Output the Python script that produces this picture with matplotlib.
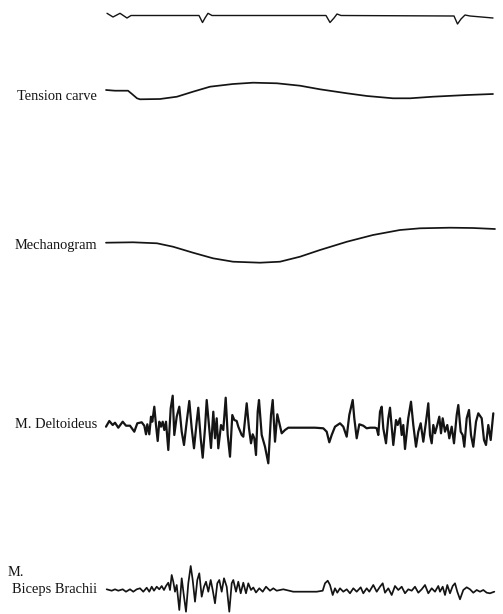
import matplotlib
matplotlib.use("Agg")
import matplotlib.pyplot as plt
import numpy as np

# Time base shared by all channels (horizontal units) and per-channel deflections
# (upward positive) from each channel's resting level.

# Time marker
marker_t = [107, 113, 120, 127, 131, 136, 199, 202.5, 205, 208, 212,
            326, 330, 334, 337, 341, 454, 457.5, 461, 465, 470, 493]
marker_v = [2.2, -1.5, 2.2, -2.5, 0, 0, 0, -7, -2.5, 2.2, 0,
            0, -7, -2.5, 1.5, 0, -0.5, -8.5, -3.5, 0.5, -0.5, -2.5]

# Tension curve
tension_t = [106, 115, 128, 132, 137, 140, 160, 177, 193, 210, 233, 253,
             277, 300, 320, 347, 367, 393, 410, 433, 467, 493]
tension_v = [1, 0.3, 0.3, -3, -7.3, -8.3, -8, -5.7, -0.7, 4.3, 7, 8.3,
             7.7, 5.3, 1.7, -2.3, -5, -7.3, -7.3, -5.7, -4, -3]

# Mechanogram
mech_t = [106, 133, 157, 173, 193, 213, 233, 260, 280, 300, 320, 347,
          373, 400, 420, 450, 473, 495]
mech_v = [0.3, 0.7, -0.3, -3.7, -9.7, -15.3, -18.7, -19.7, -18.7, -13.7, -7, 1.3,
          8, 13, 14.7, 15.3, 15, 14]

# M. Deltoideus EMG
delt_t = [106, 109.3, 112.7, 115, 118.3, 122.7, 126, 130, 134.3, 137.3, 141.7,
          144.3, 146, 147.3, 149.3, 151, 152.3, 154.3, 156, 157.7, 159.3, 161,
          162.7, 164.3, 166, 168.3, 170.7, 172.7, 174.3, 176.7, 179.3, 181.7,
          184, 186.7, 189.3, 191.7, 194, 196.7, 198.3, 200.7, 202.7, 205,
          206.7, 211, 213.3, 215, 216.7, 218.3, 221, 223.3, 225.7, 227.7, 230,
          232.3, 234.3, 236.7, 238.3, 241.7, 243.3, 246.7, 249, 251, 252.7,
          254.3, 256, 257.7, 259, 261.7, 265, 268.3, 271, 272.7, 275, 277.3,
          279, 281.7, 285, 288.3, 315, 323.3, 326.7, 329.3, 331.7, 335, 340,
          343.3, 346.7, 349.3, 352.7, 354.3, 356.7, 359.3, 363.3, 366.7, 370,
          375, 376.7, 378.3, 380, 381.7, 383.3, 386, 388.3, 390, 391.7, 393.3,
          396, 397.7, 400, 401.7, 403.3, 405, 408.3, 411, 413.3, 416, 418.3,
          420.7, 423.3, 426, 428.3, 430, 431.7, 433.3, 435, 437.3, 439.3, 441,
          442.7, 445, 447.3, 449.3, 451.7, 454, 456.7, 458.3, 460.7, 462.7,
          464.3, 466.7, 469, 471, 473.3, 476, 478.3, 481.7, 484, 486, 488.3,
          490.7, 493.3]
delt_v = [0.3, 6, 2, 4.3, -0.7, 5.3, 1.3, 1.3, -4.7, 3.7, 4.7,
          1.3, -7.3, 2.7, -7.3, 10.3, 5.3, 20.3, 2, -14, 5.3, 0.3,
          5.3, -3, 5.3, -23, 18.7, 31.3, -8, 10.3, 20.3, -4.7,
          -18, 5.3, 26, -1.3, -21.3, 5.3, 19.3, -11.3, -30.7, -1.3,
          27, -21, 15.3, -11.3, 8.7, -21.3, 2, -3, 29.3, -8, -29.7,
          12, 7, 6, 0.3, -8, -9.7, 23.7, -1.3, -16.3, -7.3,
          -11.3, -28, 15.3, 27, -8, -19.7, -36.3, 12, 27, -14.7, 12.7,
          5.3, -6.3, -3, -0.7, -0.7, -1.3, -4.7, -15.3, -8, 0.3, 3.7,
          0.3, -9.7, 12, 27, 8.7, -11.3, 2.7, 1.3, -1.3, -0.7,
          -0.7, -1.3, -8, 15.3, 20.3, -1.3, -16.3, 8.7, 19.3, 0.3, -18,
          7, 2, 8.7, -8, 2, -22, 9, 25.3, 2, -19.7, -4.7,
          3.7, -14.7, 5.3, 23.7, -8, -16.3, 2, -6.3, 2, 10.3, -6.3,
          8.7, -4.7, 2, -11.3, 0.3, -16.3, 12, 22, -4.7, -8,
          -19.7, 8.7, 17, -8, -19.7, 5.3, 13.7, 8.7, -13, -18, 2,
          -13, 13.7]

# M. Biceps Brachii EMG
bic_t = [106.7, 111.7, 115, 118.3, 122.7, 126, 130, 133.3, 136.7, 140, 143.3,
         146.7, 149.3, 151.7, 154, 156.7, 159.3, 161.7, 164, 166, 168.3, 170,
         171.7, 173.3, 175, 176.7, 179.3, 181.7, 184, 186, 188.3, 190.7, 192.7,
         195, 197.3, 199.3, 201.7, 204, 206, 208.3, 210.7, 212.7, 215, 217.3,
         219.3, 221.7, 224, 226.7, 229.3, 231.7, 233.3, 236, 238.3, 240.7,
         243.3, 246, 248.3, 251, 253.3, 256, 259.3, 262.7, 266, 270, 273.3,
         276.7, 283.3, 293.3, 303.3, 316.7, 322.7, 325, 327.7, 330, 332.7, 335,
         337.3, 340, 343.3, 346.7, 350, 353.3, 356.7, 360.7, 363.3, 366.7,
         369.3, 373.3, 376.7, 380, 382.7, 385, 388.3, 391.7, 395, 398.3, 401.7,
         405, 408.3, 411.7, 415, 418.3, 421.7, 425, 428.3, 431.7, 435, 438.3,
         440, 442.7, 445, 447.3, 450, 452.7, 455, 457.3, 460, 463.3, 466.7,
         470, 473.3, 476.7, 480, 483.3, 486.7, 490, 494.3]
bic_v = [0.7, -0.7, 0.7, -0.7, 0.7, -1.7, 0.7, -1.7, 0.7, 1.7, -1.7,
         2.3, -1.7, 3.3, -0.7, 3.3, 0.7, 4, 0, 4, 7.3, 0,
         15, 8.3, -1.7, 5, -20, 11.7, -6.7, -21.7, 6.7, 24, 10,
         -11.7, 10, 16.7, -6.7, 3.3, 8.3, -1.7, 10, 0, -13.3, 6.7,
         10, -1.7, 11.7, 3.3, -21.7, 6.7, 10, -1.7, 8.3, -3.3,
         7.3, -3.3, 6.7, 0, 2.5, -2.5, 1.7, -1.7, 3.3, -0.7, 1.7,
         -0.7, 0.7, -1.7, -1.7, -1.7, -0.7, 6.7, 9.3, 5, -5, 1.7,
         -2.7, 1.7, -1.7, 0.7, -3.3, 1.7, -1.7, 2.7, -3.3, 1.7,
         -1.7, 5, -1.7, 3.3, 6.7, -2.7, 1.7, -5, 4, 0, 3.3,
         -3.3, 0.7, -0.7, 3.3, -2.7, 0.7, 5, -3.3, 1.7, -1.7, 4,
         -1.7, 3.3, -5, 5, -3.3, 4, 6.7, -1.7, -9.3, 0, 2.7,
         0.7, -2.7, 0, -1.7, 0, -2.7, -3.3, -1.7]

channels = [
    # (label, time, values, resting level, label row, line width)
    ("", marker_t, marker_v, 15.5, None, 1.0),
    ("Tension carve", tension_t, tension_v, 91, 97, 1.25),
    ("Mechanogram", mech_t, mech_v, 243, 245, 1.25),
    ("M. Deltoideus", delt_t, delt_v, 427, 424, 1.6),
    ("Biceps Brachii", bic_t, bic_v, 590, 589, 1.25),
]

W, H = 503, 614
fig = plt.figure(figsize=(W / 100, H / 100), dpi=100)
ax = fig.add_axes([0, 0, 1, 1])
ax.set_xlim(0, W)
ax.set_ylim(H, 0)
ax.axis("off")

serif = ["Liberation Serif", "DejaVu Serif"]
ink = "#141414"

for label, t, v, level, label_y, lw in channels:
    y = level - np.asarray(v, dtype=float)
    ax.plot(t, y, color=ink, lw=lw, solid_joinstyle="round",
            solid_capstyle="round")
    if label:
        ax.text(97, label_y, label, ha="right", va="center", fontsize=10.4,
                family=serif, color=ink)

ax.text(8, 573, "M.", ha="left", va="center", fontsize=10.4,
        family=serif, color=ink)

fig.savefig("out.png", dpi=100, facecolor="white")
